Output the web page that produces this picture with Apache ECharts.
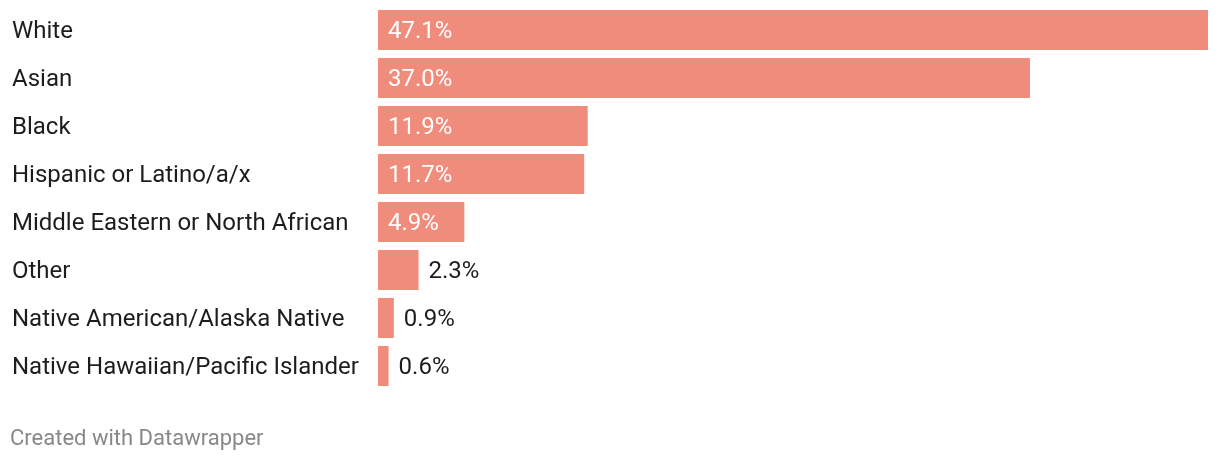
<!DOCTYPE html>
<html><head><meta charset="utf-8">
<script src="https://cdn.jsdelivr.net/npm/echarts@6/dist/echarts.min.js"></script>
<style>html,body{margin:0;padding:0;background:#fff}#c{width:1220px;height:462px}</style>
</head><body><div id="c"></div>
<script>
const categories = ["White","Asian","Black","Hispanic or Latino/a/x","Middle Eastern or North African","Other","Native American/Alaska Native","Native Hawaiian/Pacific Islander"];
const values = [47.1, 37.0, 11.9, 11.7, 4.9, 2.3, 0.9, 0.6];
const insideThreshold = 4;
const chart = echarts.init(document.getElementById('c'));
const data = values.map(v => ({
  value: v,
  label: v >= insideThreshold
    ? {position: 'insideLeft', distance: 10, color: '#ffffff'}
    : {position: 'right', distance: 10, color: '#1d1d1d'}
}));
chart.setOption({
  animation: false,
  grid: {left: 378, right: 12, top: 6, height: 384, containLabel: false},
  xAxis: {type: 'value', min: 0, max: 47.1, show: false},
  yAxis: {
    type: 'category', data: categories, inverse: true,
    axisLine: {show: false}, axisTick: {show: false}, splitLine: {show: false},
    axisLabel: {margin: 366, align: 'left', verticalAlign: 'top', lineHeight: 4, fontFamily: 'Roboto', fontSize: 24, color: '#1d1d1d'}
  },
  series: [{
    type: 'bar', data: data, barWidth: 40,
    itemStyle: {color: '#ef8c7c'},
    label: {show: true, fontFamily: 'Roboto', fontSize: 24, offset: [0, 2], formatter: p => p.value.toFixed(1) + '%'}
  }],
  graphic: [{
    type: 'text', left: 10, top: 428,
    style: {text: 'Created with Datawrapper', fontFamily: 'Roboto', fontSize: 22, fill: '#888888'}
  }]
});
</script></body></html>
